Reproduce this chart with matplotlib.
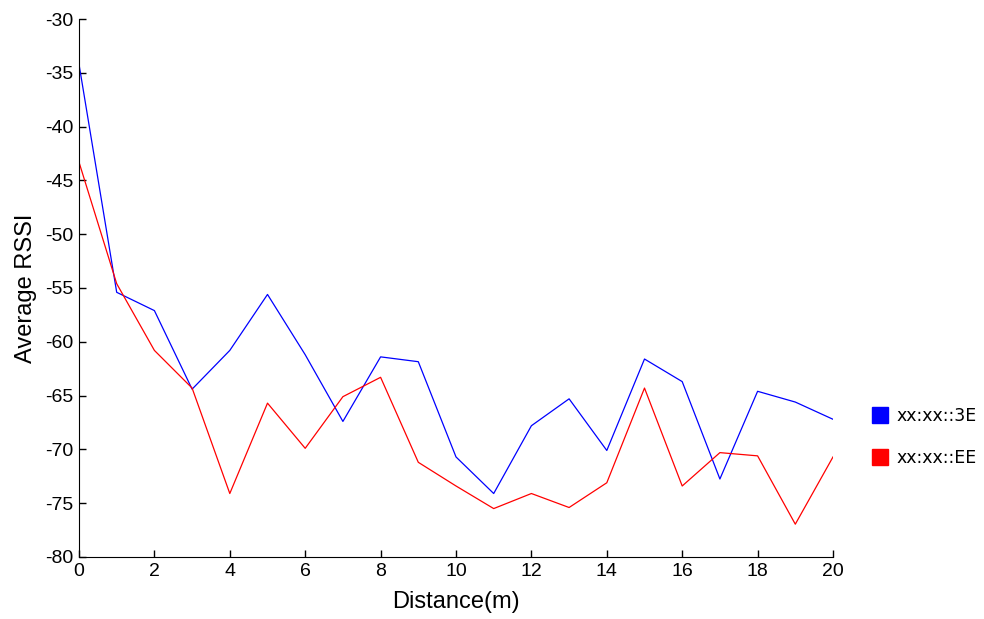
import matplotlib
matplotlib.use("Agg")
import matplotlib.pyplot as plt
from matplotlib.lines import Line2D

distance = list(range(0, 21))
rssi_3e = [-34.2, -55.4, -57.1, -64.4, -60.8, -55.6, -61.2, -67.4, -61.4, -61.85,
           -70.7, -74.1, -67.8, -65.3, -70.1, -61.6, -63.7, -72.75, -64.6, -65.6, -67.2]
rssi_ee = [-43.3, -54.6, -60.8, -64.3, -74.1, -65.7, -69.9, -65.1, -63.3, -71.2,
           -73.4, -75.5, -74.1, -75.4, -73.1, -64.3, -73.4, -70.3, -70.6, -76.95, -70.7]
labels = ["xx:xx::3E", "xx:xx::EE"]
colors = ["#0000ff", "#ff0000"]

plt.rcParams['font.family'] = ['Liberation Sans', 'DejaVu Sans']
plt.rcParams['axes.unicode_minus'] = False

fig = plt.figure(figsize=(9.84, 6.19), dpi=100)
ax = fig.add_axes([79/984, 1-557/619, (833-79)/984, (557-19)/619])
ax.plot(distance, rssi_3e, color=colors[0], lw=0.9)
ax.plot(distance, rssi_ee, color=colors[1], lw=0.9)
ax.set_xlim(0, 20)
ax.set_ylim(-80, -30)
ax.set_xticks(range(0, 21, 2))
ax.set_yticks(range(-80, -29, 5))
ax.spines['top'].set_visible(False)
ax.spines['right'].set_visible(False)
ax.tick_params(direction='in', length=5, labelsize=14, width=1, pad=4)
ax.set_xlabel("Distance(m)", fontsize=17, labelpad=8)
ax.set_ylabel("Average RSSI", fontsize=17, labelpad=5.5)

handles = [Line2D([], [], ls='none', marker='s', markersize=11, color=c) for c in colors]
fig.legend(handles, labels, loc='center left', bbox_to_anchor=(856/984, 1-437/619),
           frameon=False, handlelength=1.0, handletextpad=0.45, labelspacing=1.4,
           prop={'family': ['DejaVu Sans'], 'size': 12.5})

fig.savefig("out.png", dpi=100)
